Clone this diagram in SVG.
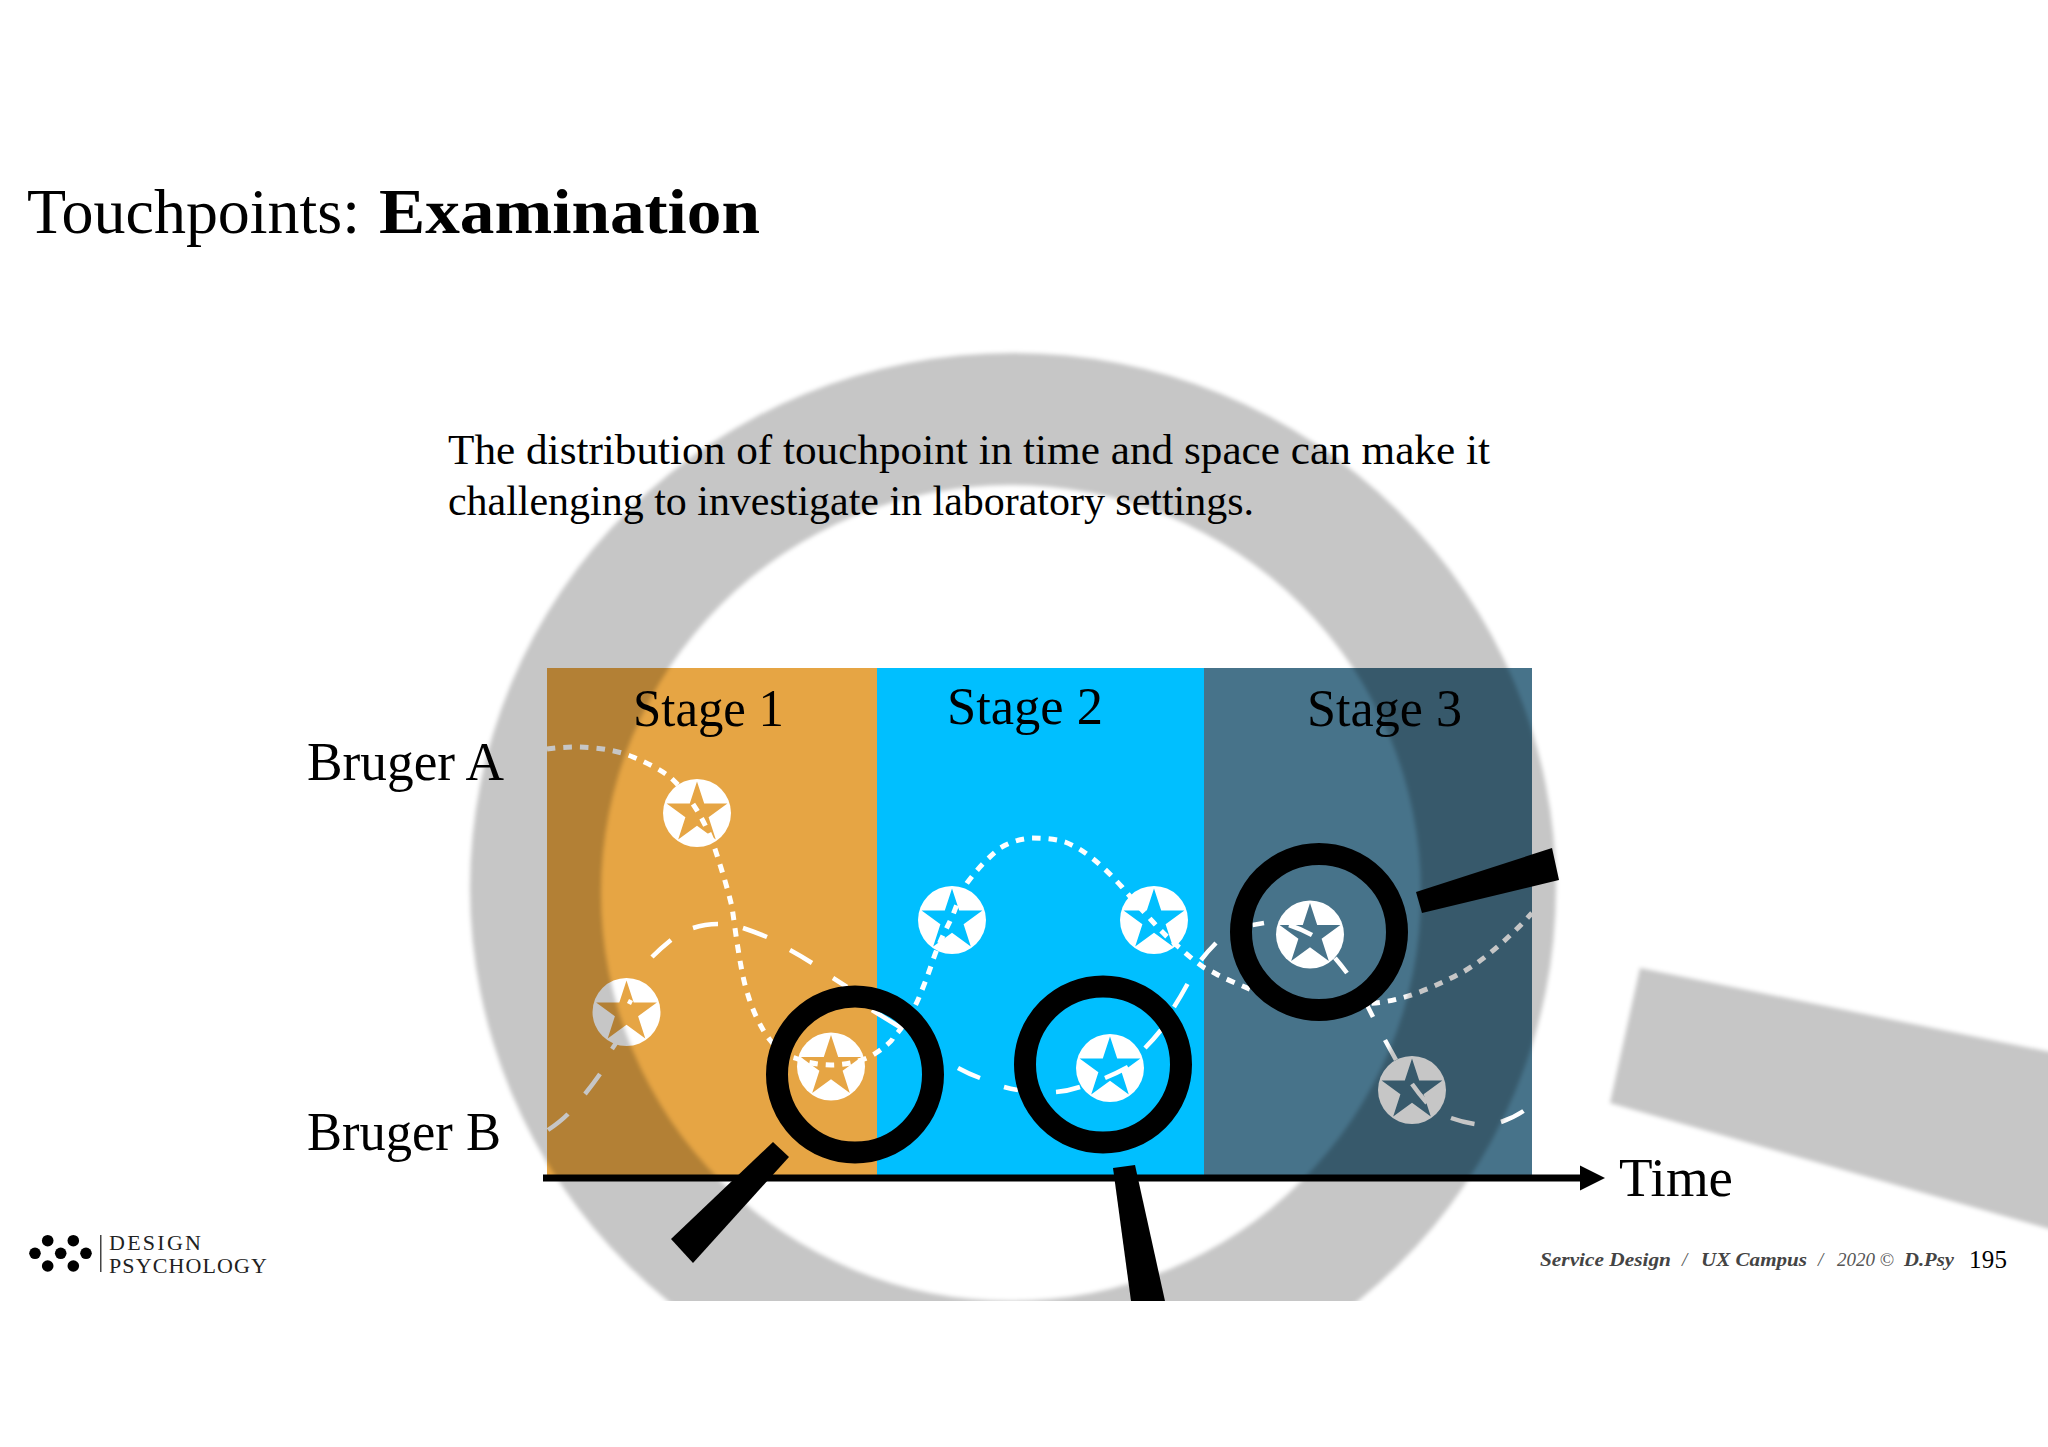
<svg xmlns="http://www.w3.org/2000/svg" xmlns:xlink="http://www.w3.org/1999/xlink" width="2048" height="1447" viewBox="0 0 2048 1447">
<style>
text{font-family:"Liberation Serif","Times New Roman",serif;fill:#000}
.stage{font-size:52px}
.axis{font-size:54px}
.body{font-size:42px}
.foot{font-size:19px;fill:#444;font-style:italic;font-weight:bold}
.footl{font-size:19px;fill:#555;font-style:italic}
.logo{font-size:22px;fill:#222}
.dot{fill:none;stroke:#fff;stroke-width:5;stroke-dasharray:8.5 8}
.dash{fill:none;stroke:#fff;stroke-width:4.5}
.ring{fill:none;stroke:#000;stroke-width:22}
.disc{fill:#fff}
</style>
<defs>
<polygon id="star" points="0,-32 7.2,-9.9 30.4,-9.9 11.6,3.8 18.8,25.9 0,12.2 -18.8,25.9 -11.6,3.8 -30.4,-9.9 -7.2,-9.9"/>
<filter id="soft" filterUnits="userSpaceOnUse" x="0" y="0" width="2048" height="1447"><feGaussianBlur stdDeviation="2"/></filter>
<clipPath id="crop"><rect x="0" y="0" width="2048" height="1301"/></clipPath>
</defs>
<rect width="2048" height="1447" fill="#fff"/>

<g id="stages">
<rect x="547" y="668" width="330" height="510" fill="#e6a544"/>
<rect x="877" y="668" width="327" height="510" fill="#00bfff"/>
<rect x="1204" y="668" width="328" height="510" fill="#47738a"/>
</g>

<g id="touchpoints">
<g id="tp1"><circle class="disc" cx="697" cy="813" r="34"/><use xlink:href="#star" href="#star" x="697" y="813.5" fill="#e6a544"/></g>
<g id="tp2"><circle class="disc" cx="626.5" cy="1012" r="34"/><use xlink:href="#star" href="#star" x="626.5" y="1012.5" fill="#e6a544"/></g>
<g id="tp3"><circle class="disc" cx="831" cy="1066.5" r="34"/><use xlink:href="#star" href="#star" x="831" y="1067" fill="#e6a544"/></g>
<g id="tp4"><circle class="disc" cx="952" cy="920" r="34"/><use xlink:href="#star" href="#star" x="952" y="920.5" fill="#00bfff"/></g>
<g id="tp5"><circle class="disc" cx="1154" cy="920" r="34"/><use xlink:href="#star" href="#star" x="1154" y="920.5" fill="#00bfff"/></g>
<g id="tp6"><circle class="disc" cx="1110" cy="1068" r="34"/><use xlink:href="#star" href="#star" x="1110" y="1068.5" fill="#00bfff"/></g>
<g id="tp7"><circle class="disc" cx="1310" cy="934.5" r="34"/><use xlink:href="#star" href="#star" x="1310" y="935" fill="#47738a"/></g>
<g id="tp8"><circle class="disc" cx="1412" cy="1090" r="34"/><use xlink:href="#star" href="#star" x="1412" y="1090.5" fill="#47738a"/></g>
</g>

<g id="connectors">
<path id="bruger-a" class="dot" d="M547,749 C575,745 610,747 633,757 C650,764 662,771 670,777 C690,795 704,820 713,843 C722,870 728,890 732,907 C736,935 741,975 748,995 C753,1012 762,1030 770,1040 C778,1050 785,1056 795,1058 Q831,1072 867,1058 C880,1052 893,1040 893,1038 C905,1025 914,1010 920,995 C926,980 928,975 933,960 C940,940 945,932 952,917 C957,905 960,895 967,883 C978,868 988,858 1000,848 C1010,842 1020,839 1032,838 C1045,838 1055,839 1065,842 C1075,846 1083,851 1092,858 C1102,866 1112,876 1122,887 C1132,899 1142,910 1153,922 C1162,932 1170,940 1180,948 C1187,955 1195,961 1203,967 C1208,970 1213,972 1218,975 C1228,980 1240,985 1252,990 C1290,1005 1340,1008 1383,1002 C1395,1000 1406,997 1417,993 C1433,987 1448,980 1463,972 C1487,958 1512,935 1532,913"/>
<path id="bruger-b" class="dash" d="M548,1130 Q560,1122 568,1114 M585,1094 Q593,1084 600,1074 M612,1049 Q614,1046 616,1043 M628,1001 L632,1003 M652,957 Q661,948 671,940 M693,928 Q705,924 718,924 M743,928 Q755,932 767,937 M790,950 Q801,956 812,963 M833,978 L847,987 M872,1010 Q888,1020 903,1029 M958,1068 Q969,1074 980,1078 M1004,1087 Q1011,1089 1018,1090 M1056,1092 Q1068,1091 1080,1087 M1105,1078 Q1117,1073 1128,1067 M1145,1048 Q1153,1040 1161,1030 M1174,1007 Q1181,996 1187.5,984 M1201,960 Q1208,951 1216,943 M1252.6,925 L1264,923 M1289,925 Q1301,929 1312,935 M1335,958 Q1341,965 1347,973 M1367,1005 L1373,1017 M1385,1040 L1396,1060 M1412,1084 Q1419,1094 1427,1103 M1451,1118 Q1462,1122 1474.5,1124 M1501,1122 Q1513,1118 1523.5,1111"/>
</g>

<g id="timeline">
<rect x="543" y="1174.5" width="1040" height="7"/>
<polygon points="1580,1165.5 1605,1178 1580,1190.5"/>
</g>

<g id="magnifier-1"><circle class="ring" cx="855" cy="1074.5" r="78"/><polygon points="773,1142 789,1157 693,1263 671,1239"/></g>
<g id="magnifier-2"><circle class="ring" cx="1103" cy="1064.5" r="78"/><polygon points="1113,1168 1135,1165 1165,1301 1131,1301"/></g>
<g id="magnifier-3"><circle class="ring" cx="1319" cy="932" r="78"/><polygon points="1416,892 1552,848 1559,880 1422,913"/></g>

<g id="big-magnifier" clip-path="url(#crop)">
<g filter="url(#soft)" fill="#000" fill-opacity="0.224">
<path fill-rule="evenodd" d="M470,888 A543,535 0 1 1 1556,888 A543,535 0 1 1 470,888 Z M601,893 A410,408 0 1 0 1421,893 A410,408 0 1 0 601,893 Z"/>
<polygon points="1640,968 2060,1054 2060,1232 1610,1103"/>
</g>
</g>

<g id="title"><text x="27" y="233" font-size="64" textLength="333" lengthAdjust="spacingAndGlyphs">Touchpoints:</text><text x="379" y="233" font-size="64" font-weight="bold" textLength="381" lengthAdjust="spacingAndGlyphs">Examination</text></g>
<g id="intro">
<text class="body" x="448" y="464" textLength="1042" lengthAdjust="spacingAndGlyphs">The distribution of touchpoint in time and space can make it</text>
<text class="body" x="448" y="515" textLength="806" lengthAdjust="spacingAndGlyphs">challenging to investigate in laboratory settings.</text>
</g>
<g id="labels">
<text class="stage" x="633" y="726" textLength="151" lengthAdjust="spacingAndGlyphs">Stage 1</text>
<text class="stage" x="947" y="724" textLength="156" lengthAdjust="spacingAndGlyphs">Stage 2</text>
<text class="stage" x="1307" y="726" textLength="155" lengthAdjust="spacingAndGlyphs">Stage 3</text>
<text class="axis" x="307" y="780" textLength="197" lengthAdjust="spacingAndGlyphs">Bruger A</text>
<text class="axis" x="307" y="1150" textLength="194" lengthAdjust="spacingAndGlyphs">Bruger B</text>
<text class="axis" x="1619" y="1196" textLength="114" lengthAdjust="spacingAndGlyphs">Time</text>
</g>
<g id="logo">
<circle cx="35" cy="1253.3" r="5.8"/><circle cx="47.7" cy="1240.7" r="5.8"/><circle cx="47.7" cy="1266" r="5.8"/><circle cx="60.7" cy="1253.3" r="5.8"/><circle cx="73.3" cy="1240.7" r="5.8"/><circle cx="73.3" cy="1266" r="5.8"/><circle cx="86" cy="1253.3" r="5.8"/>
<rect x="100" y="1235" width="1.5" height="37" fill="#444"/>
<text class="logo" x="109" y="1250" textLength="92" lengthAdjust="spacing">DESIGN</text>
<text class="logo" x="109" y="1273" textLength="158" lengthAdjust="spacing">PSYCHOLOGY</text>
</g>
<g id="footer">
<text class="foot" x="1540" y="1266" textLength="131" lengthAdjust="spacingAndGlyphs">Service Design</text>
<text class="footl" x="1682" y="1266">/</text>
<text class="foot" x="1701" y="1266" textLength="106" lengthAdjust="spacingAndGlyphs">UX Campus</text>
<text class="footl" x="1818" y="1266">/</text>
<text class="footl" x="1837" y="1266" textLength="57" lengthAdjust="spacing">2020 ©</text>
<text class="foot" x="1904" y="1266" textLength="50" lengthAdjust="spacingAndGlyphs">D.Psy</text>
<text x="1969" y="1268" font-size="25" fill="#222" textLength="38" lengthAdjust="spacing">195</text>
</g>
</svg>
